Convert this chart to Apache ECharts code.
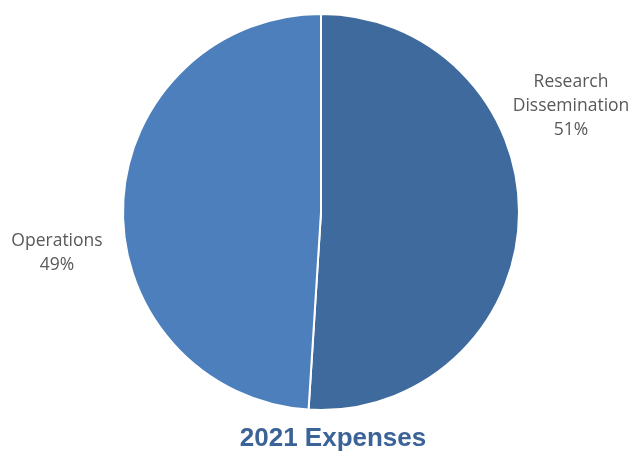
<!DOCTYPE html>
<html>
<head>
<meta charset="utf-8">
<script src="https://cdn.jsdelivr.net/npm/echarts@6/dist/echarts.min.js"></script>
<style>
html,body{margin:0;padding:0;background:#fff;}
#c{width:631px;height:455px;}
</style>
</head>
<body>
<div id="c"></div>
<script>
const categories = ['Research\nDissemination', 'Operations'];
const values = [51, 49];
const colors = ['#3E6A9D', '#4D7FBC'];
const titleText = '2021 Expenses';

const chart = echarts.init(document.getElementById('c'));
const labelPos = [[571, 106], [57, 253]];
chart.setOption({
  animation: false,
  title: {
    text: titleText,
    left: 328,
    textAlign: 'center',
    top: 421,
    textStyle: {fontFamily: 'Liberation Sans', fontWeight: 'bold', fontSize: 26, color: '#3B6397'}
  },
  series: [{
    type: 'pie',
    center: [321, 212],
    radius: [0, 198],
    startAngle: 90,
    clockwise: true,
    itemStyle: {borderColor: '#fff', borderWidth: 2},
    label: {
      show: true,
      position: 'outside',
      formatter: p => p.name + '\n' + Math.round(p.percent) + '%',
      fontFamily: 'Open Sans',
      fontSize: 17.5,
      lineHeight: 24,
      color: '#595959',
      align: 'center',
      overflow: 'none',
      width: 200
    },
    labelLine: {show: false},
    labelLayout: function (params) {
      const p = labelPos[params.dataIndex];
      return {x: p[0], y: p[1], align: 'center', verticalAlign: 'middle', hideOverlap: false};
    },
    emphasis: {disabled: true},
    data: categories.map((c, i) => ({name: c, value: values[i], itemStyle: {color: colors[i]}}))
  }]
});
</script>
</body>
</html>
